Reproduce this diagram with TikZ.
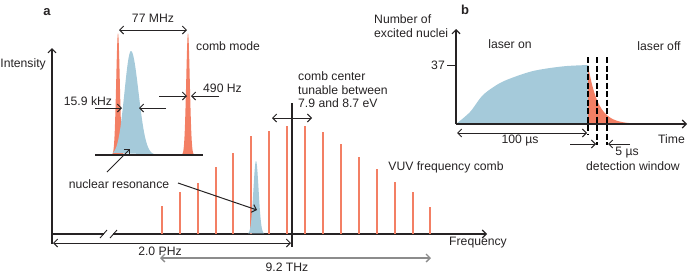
\documentclass[tikz,border=0pt]{standalone}
\usepackage{fontspec}
\setmainfont{Liberation Sans}
\usetikzlibrary{positioning, arrows.meta, calc}
\definecolor{mOrange}{HTML}{F37F64}
\definecolor{mBlue}{HTML}{A5CADA}
\definecolor{mGray}{HTML}{8C8C8C}
\definecolor{mInk}{HTML}{262324}

\begin{document}
\begin{tikzpicture}[x=1bp, y=-1bp,
  lbl/.style={font=\fontsize{12.2bp}{13.5bp}\selectfont, text=mInk, inner sep=0pt},
  panel/.style={font=\bfseries\fontsize{13bp}{15bp}\selectfont, text=mInk, inner sep=0pt},
  axis/.style={draw=mInk, line width=1.1bp, -{Straight Barb[length=4bp,width=8bp]}},
  dim/.style={draw=mInk, line width=1bp, {Straight Barb[length=4bp,width=8bp]}-{Straight Barb[length=4bp,width=8bp]}},
  pointer/.style={draw=mInk, line width=1bp, -{Straight Barb[length=4bp,width=8bp]}},
  tooth/.style={draw=mOrange, line width=1.1bp},
  window/.style={draw=black, line width=1.2bp, dash pattern=on 6bp off 2.5bp},
]
  \useasboundingbox (0,0) rectangle (688,273);

  % panel a
  \node[panel] (la) at (47,12) {a};
  \coordinate (o) at (52,234);
  \coordinate (ytop) at (52,48);
  \coordinate (ybot) at (52,244);
  \coordinate (brkL) at (104,234);
  \coordinate (brkR) at (113,234);
  \coordinate (xend) at (487,234);
  \draw[axis] (ybot) -- (ytop);
  \draw[draw=mInk, line width=1.1bp] (o) -- (brkL);
  \draw[axis] (brkR) -- (xend);
  \draw[draw=mInk, line width=0.9bp] (100,238) -- (107,230) (110,238) -- (117,230);
  \node[lbl, anchor=east] (inten) at (46,64) {Intensity};
  \node[lbl, anchor=west] (freq) at (449,243) {Frequency};

  \foreach \xx/\yy in {162/206, 180/192, 198/183, 216/167, 233/153, 251/136,
                       269/131, 287/126, 305/126, 323/132, 341/144, 359/157,
                       377/169, 395/182, 413/192, 430/207}
    \draw[tooth] (\xx,234) -- (\xx,\yy);
  \fill[mBlue] plot[domain=248:264, samples=40] (\x, {234-73*exp(-(\x-256)^2/(2*2.6^2))}) -- cycle;

  \coordinate (ctop) at (292,103);
  \coordinate (cbot) at (292,247);
  \draw[draw=mInk, line width=1.1bp] (ctop) -- (cbot);
  \coordinate (tuneL) at (272,118);
  \coordinate (tuneR) at (312,118);
  \draw[dim] (tuneL) -- (tuneR);
  \node[lbl, anchor=west, align=left] (center) at (298,90) {comb center\\tunable between\\7.9 and 8.7 eV};
  \node[lbl] (vuv) at (446,167) {VUV frequency comb};

  \coordinate (phzL) at (53,243);
  \coordinate (phzR) at (291,243);
  \draw[dim] (phzL) -- (phzR);
  \node[lbl] (phz) at (160,251) {2.0 PHz};
  \coordinate (thzL) at (160,258);
  \coordinate (thzR) at (431,258);
  \draw[dim, draw=mGray, line width=1.3bp] (thzL) -- (thzR);
  \node[lbl] (thz) at (287,267) {9.2 THz};

  % inset
  \coordinate (baseL) at (95,155);
  \coordinate (baseR) at (203,155);
  \foreach \cc in {118,188}
    \fill[mOrange] plot[domain=\cc-6:\cc+6, samples=40] (\x, {155-122*exp(-(\x-\cc)^2/(2*1.8^2))}) -- cycle;
  \fill[mBlue] plot[domain=113:131, samples=40] (\x, {155-104*exp(-(\x-131)^2/(2*6.5^2))})
    -- plot[domain=131:156, samples=40] (\x, {155-104*exp(-(\x-131)^2/(2*7.5^2))}) -- cycle;
  \draw[draw=mInk, line width=1.1bp] (baseL) -- (baseR);

  \coordinate (mhzL) at (119,30);
  \coordinate (mhzR) at (187,30);
  \draw[dim] (mhzL) -- (mhzR);
  \node[lbl] (mhz) at (153,18) {77 MHz};
  \node[lbl, anchor=west] (mode) at (196,46) {comb mode};

  \coordinate (hzA) at (159,96);
  \coordinate (hzB) at (187,96);
  \coordinate (hzC) at (219,96);
  \coordinate (hzD) at (191,96);
  \draw[pointer] (hzA) -- (hzB);
  \draw[pointer] (hzC) -- (hzD);
  \node[lbl, anchor=west] (hz) at (203,88) {490 Hz};

  \coordinate (khzA) at (95,108);
  \coordinate (khzB) at (122,108);
  \coordinate (khzC) at (166,108);
  \coordinate (khzD) at (139,108);
  \draw[pointer] (khzA) -- (khzB);
  \draw[pointer] (khzC) -- (khzD);
  \node[lbl] (khz) at (88,101) {15.9 kHz};

  \node[lbl] (res) at (119,184) {nuclear resonance};
  \coordinate (resUp) at (130,149);
  \coordinate (resDn) at (257,210);
  \draw[pointer] (107,172) -- (resUp);
  \draw[pointer] (178,183) -- (resDn);

  % panel b
  \node[panel] (lb) at (465,10) {b};
  \coordinate (p) at (456,124);
  \coordinate (ntop) at (456,29);
  \coordinate (tend) at (687,124);
  \fill[mBlue] plot[smooth] coordinates {(456,124) (470,112) (483,95) (500,83) (517,76)
    (533,71) (550,68) (567,66) (588,65)} -- (588,124) -- cycle;
  \fill[mOrange] (588,124) -- plot[domain=588:640, samples=60] (\x, {124-59*exp(-(\x-588)/10)}) -- (640,124) -- cycle;
  \draw[axis] (p) -- (ntop);
  \draw[axis] (p) -- (tend);
  \coordinate (tick) at (447,65);
  \draw[draw=mInk, line width=0.9bp] (tick) -- (456,65);
  \node[lbl, anchor=east] (n37) at (445,65) {37};
  \node[lbl, anchor=west, align=left] (nuc) at (374,26) {Number of\\excited nuclei};
  \node[lbl, anchor=west] (time) at (658,139) {Time};
  \node[lbl] (on) at (510,44) {laser on};
  \node[lbl] (off) at (659,46) {laser off};

  \foreach \xx/\yy in {588/135, 597/145, 607/145}
    \draw[window] (\xx,57) -- (\xx,\yy);

  \coordinate (usL) at (457,133);
  \coordinate (usR) at (587,133);
  \draw[dim] (usL) -- (usR);
  \node[lbl] (us) at (520,141) {100 µs};
  \coordinate (winA) at (570,144);
  \coordinate (winB) at (596,144);
  \coordinate (winC) at (630,144);
  \coordinate (winD) at (608,144);
  \draw[pointer] (winA) -- (winB);
  \draw[pointer] (winC) -- (winD);
  \node[lbl] (fiveus) at (627,153) {5 µs};
  \node[lbl] (det) at (633,166) {detection window};
\end{tikzpicture}
\end{document}
